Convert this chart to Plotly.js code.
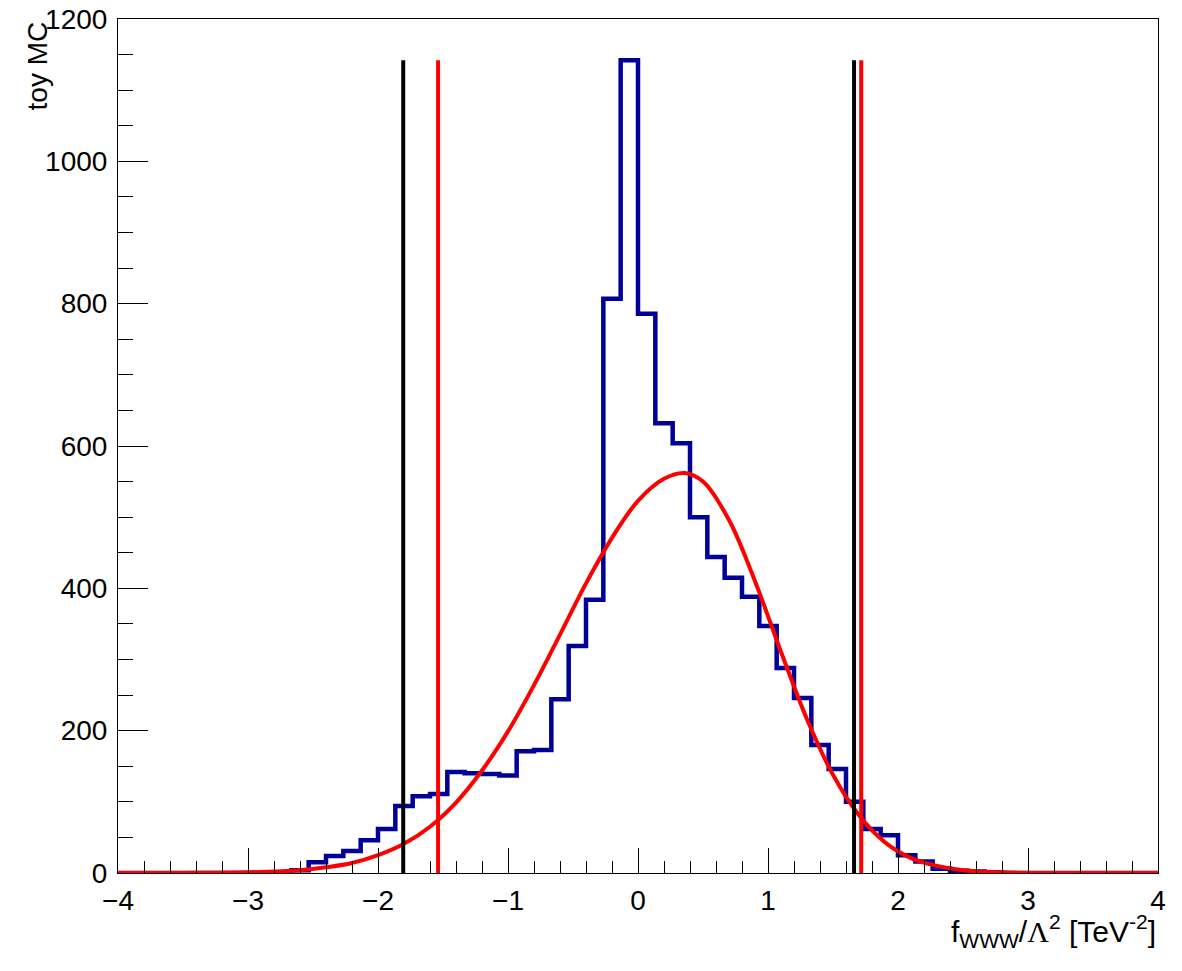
<!DOCTYPE html>
<html>
<head>
<meta charset="utf-8">
<script src="https://cdn.plot.ly/plotly-3.0.1.min.js"></script>
<style>html,body{margin:0;padding:0;background:#fff;}#chart{width:1182px;height:971px;}</style>
</head>
<body>
<div id="chart"></div>
<script>
// Histogram binning
const binLow = -4;
const binHigh = 4;
const nBins = 60;
// Bin contents (toy MC counts)
const counts = [
  0, 0, 0, 0, 0, 0, 0, 0, 0, 1,
  4, 15, 24, 31, 46, 62, 94, 108, 111, 142,
  140, 139, 137, 171, 173, 244, 319, 384, 807, 1142,
  786, 632, 604, 500, 444, 415, 388, 347, 288, 246,
  180, 146, 100, 62, 53, 25, 16, 6, 3, 2,
  1, 0, 0, 0, 0, 0, 0, 0, 0, 0
];
// Fitted curve
const fitX = [-4, -3.5, -3.0, -2.6, -2.4, -2.2, -2.0, -1.8, -1.6, -1.4, -1.2, -1.0, -0.8, -0.6, -0.4, -0.2, 0.0, 0.2, 0.36, 0.5, 0.7, 0.9, 1.1, 1.3, 1.5, 1.7, 1.9, 2.1, 2.3, 2.5, 2.8, 3.2, 3.6, 4];
const fitY = [0, 0.1, 1, 4, 8, 14, 25, 41, 65, 99, 144, 199, 264, 335, 407, 471, 523, 554, 562, 550, 496, 410, 311, 216, 138, 81, 43, 21, 10, 4, 1, 0, 0, 0];
// Interval limits
const blackLimits = [-1.806, 1.662];
const redLimits = [-1.538, 1.717];
const limitTop = 1142;
// Axis ticks
const xTicks = [-4, -3, -2, -1, 0, 1, 2, 3, 4];
const yTicks = [0, 200, 400, 600, 800, 1000, 1200];

const width = (binHigh - binLow) / nBins;
const hx = [], hy = [];
for (let i = 0; i < nBins; i++) { hx.push(binLow + i * width); hy.push(counts[i]); }
hx.push(binHigh); hy.push(counts[nBins - 1]);

const traces = [];
traces.push({x: hx, y: hy, mode: 'lines', line: {shape: 'hv', color: '#000099', width: 4.5}, hoverinfo: 'skip', showlegend: false});
traces.push({x: fitX, y: fitY, mode: 'lines', line: {shape: 'spline', smoothing: 1, color: '#ff0000', width: 4}, hoverinfo: 'skip', showlegend: false});
blackLimits.forEach(v => traces.push({x: [v, v], y: [0, limitTop], mode: 'lines', line: {color: '#000000', width: 4}, showlegend: false, hoverinfo: 'skip'}));
redLimits.forEach(v => traces.push({x: [v, v], y: [0, limitTop], mode: 'lines', line: {color: '#ff0000', width: 4}, showlegend: false, hoverinfo: 'skip'}));

const font = {family: 'Liberation Sans, Arial, sans-serif', size: 28, color: '#000'};
const layout = {
  width: 1182, height: 971,
  margin: {l: 118, r: 24, t: 19, b: 98},
  paper_bgcolor: '#fff', plot_bgcolor: '#fff',
  font: font,
  showlegend: false,
  xaxis: {
    range: [binLow, binHigh], tickvals: xTicks, ticktext: xTicks.map(v => v < 0 ? '\u2212' + Math.abs(v) : String(v)),
    ticks: 'inside', ticklen: 25, tickwidth: 1, tickcolor: '#000',
    minor: {dtick: 0.2, ticks: 'inside', ticklen: 12, tickwidth: 1, tickcolor: '#000', showgrid: false},
    showline: true, mirror: true, linecolor: '#000', linewidth: 1,
    showgrid: false, zeroline: false, tickfont: font, ticklabelstandoff: 2
  },
  yaxis: {
    range: [0, 1200], tickvals: yTicks, ticktext: yTicks.map(String),
    ticks: 'inside', ticklen: 30, tickwidth: 1, tickcolor: '#000',
    minor: {dtick: 50, ticks: 'inside', ticklen: 15, tickwidth: 1, tickcolor: '#000', showgrid: false},
    showline: true, mirror: true, linecolor: '#000', linewidth: 1,
    showgrid: false, zeroline: false, tickfont: font, ticklabelstandoff: 4
  },
  annotations: [
    {text: 'f<sub>WWW</sub>/<span style="font-family:Liberation Serif">\u039B</span><sup>2</sup> [TeV<sup>-2</sup>]', xref: 'paper', yref: 'paper', x: 1, y: -0.068, xanchor: 'right', yanchor: 'middle', showarrow: false, font: {family: font.family, size: 30, color: '#000'}},
    {text: 'toy MC', textangle: -90, xref: 'paper', yref: 'paper', x: -0.077, y: 1.0, xanchor: 'center', yanchor: 'top', showarrow: false, font: font}
  ]
};
Plotly.newPlot('chart', traces, layout, {staticPlot: true, displayModeBar: false});
</script>
</body>
</html>
